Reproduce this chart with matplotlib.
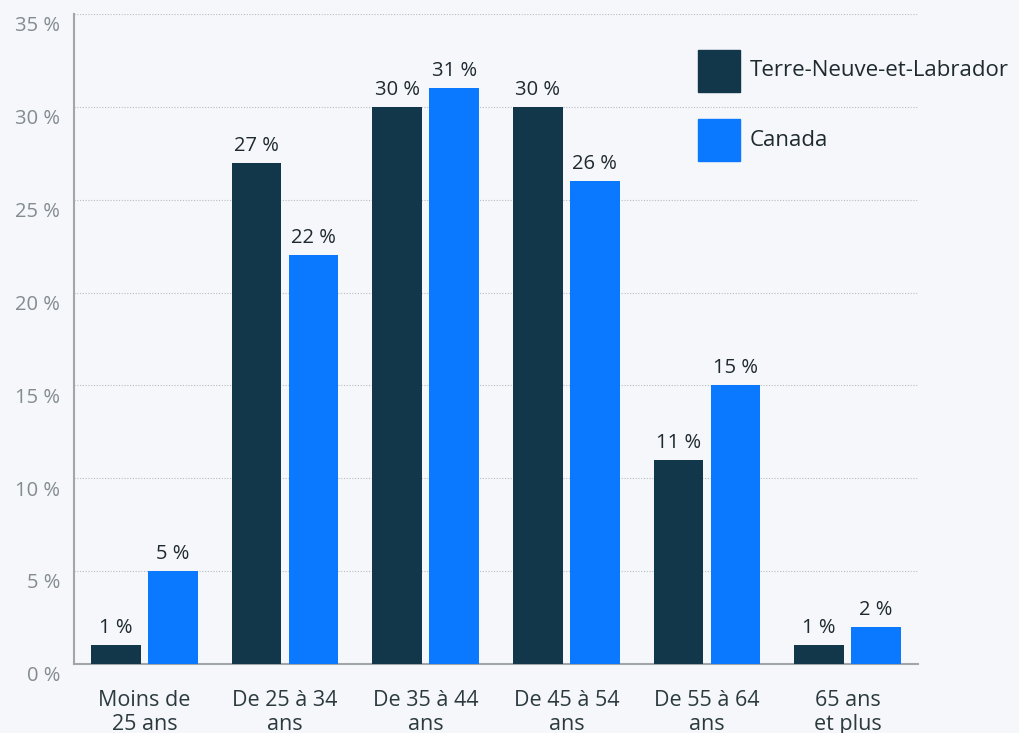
import numpy as np
import matplotlib.pyplot as plt
import matplotlib.transforms as mtransforms
from matplotlib.patches import Rectangle

groups = ['Moins de\n25 ans', 'De 25 à 34\nans', 'De 35 à 44\nans',
          'De 45 à 54\nans', 'De 55 à 64\nans', '65 ans\net plus']
nl = [1, 27, 30, 30, 11, 1]
canada = [5, 22, 31, 26, 15, 2]
names = ['Terre-Neuve-et-Labrador', 'Canada']
yticks = [0, 5, 10, 15, 20, 25, 30, 35]

bg = '#f5f7fa'
colors = ['#12364a', '#0a78ff']

plt.rcParams['font.family'] = ['Open Sans', 'DejaVu Sans']

W, H = 1020, 733
fig = plt.figure(figsize=(W/100, H/100), dpi=100, facecolor=bg)
ax = fig.add_axes([74/W, 1-664/H, (918-74)/W, (664-14)/H])
ax.set_facecolor(bg)

x = np.arange(len(groups))
w = 0.355
off = w/2 + 0.025
for i, (vals, c) in enumerate(zip([nl, canada], colors)):
    bars = ax.bar(x + (2*i - 1)*off, vals, width=w, color=c, label=names[i], zorder=3)
    for b, v in zip(bars, vals):
        ax.annotate(f'{v} %', (b.get_x() + b.get_width()/2, v),
                    xytext=(0, 5), textcoords='offset points',
                    ha='center', va='bottom', fontsize=14.5, color='#1f2a30')

ax.set_xlim(-0.5, len(groups) - 0.5)
ax.set_ylim(0, 35)
ax.set_yticks(yticks)
ax.set_yticklabels([f'{t} %' for t in yticks])
ax.set_xticks(x)
ax.set_xticklabels(groups, linespacing=1.15)
ax.tick_params(axis='y', length=0, pad=10, labelsize=14.5, labelcolor='#848c90')
ax.tick_params(axis='x', length=0, pad=19, labelsize=15.5, labelcolor='#2c3a40')

# y labels sit a little below their gridline
shift = mtransforms.ScaledTranslation(0, -7/72, fig.dpi_scale_trans)
for lab in ax.get_yticklabels():
    lab.set_transform(lab.get_transform() + shift)

ax.grid(axis='y', linestyle=(0, (1, 1.5)), color='#b8bcc0', lw=0.8, zorder=0)
for s in ['top', 'right']:
    ax.spines[s].set_visible(False)
for s in ['left', 'bottom']:
    ax.spines[s].set_color('#a0a6aa')
    ax.spines[s].set_linewidth(1.5)

# legend drawn by hand: square swatch + label
for i, (n, c) in enumerate(zip(names, colors)):
    top = 50 + i*69
    fig.patches.append(Rectangle((698/W, 1-(top+42)/H), 42/W, 42/H,
                                 transform=fig.transFigure, color=c))
    fig.text(750/W, 1-(top+21)/H, n, fontsize=16, color='#1f2a30',
             ha='left', va='center')

plt.savefig('out.png', facecolor=bg)
